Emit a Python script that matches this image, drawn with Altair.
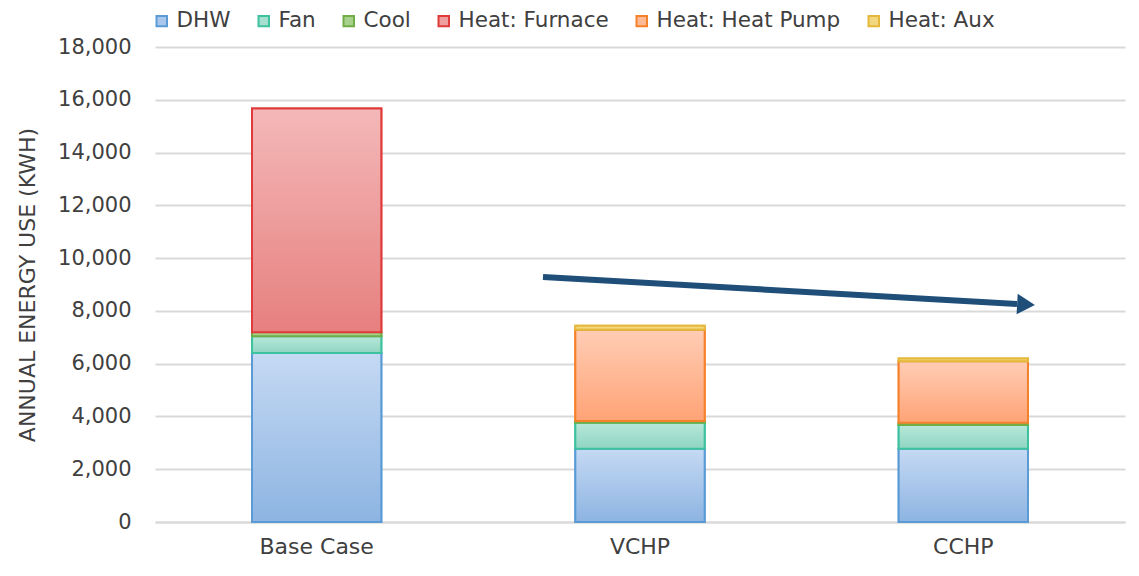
import altair as alt
import pandas as pd

categories = ["Base Case", "VCHP", "CCHP"]
series = ["DHW", "Fan", "Cool", "Heat: Furnace", "Heat: Heat Pump", "Heat: Aux"]
dhw = [6400, 2780, 2780]
fan = [640, 980, 900]
cool = [150, 70, 80]
furnace = [8480, 0, 0]
heat_pump = [0, 3460, 2330]
aux = [0, 150, 110]

stroke_colors = ["#5b9bd5", "#3cc29f", "#70ad47", "#e03a3a", "#f5812a", "#e4b83a"]
fill_mid = ["#a9c6ec", "#a6dfcf", "#a9d18e", "#ee9e9e", "#ffb995", "#f3d680"]
grad_top = ["#c5d9f3", "#b8e8da", "#b9dba0", "#f4b8b8", "#ffcdb5", "#f7e39a"]
grad_bot = ["#8db4e2", "#8fd5c1", "#98c978", "#e6807f", "#ffa376", "#efcb66"]

values = [dhw, fan, cool, furnace, heat_pump, aux]
rows = []
for si, s in enumerate(series):
    for ci, c in enumerate(categories):
        rows.append({"cat": c, "series": s, "order": si, "value": values[si][ci]})
df = pd.DataFrame(rows)

FONT = "DejaVu Sans"
TXT = "#404040"

xenc = alt.X("cat:N", sort=categories, title=None,
             scale=alt.Scale(paddingInner=0.6, paddingOuter=0.3),
             axis=alt.Axis(labelAngle=0, labelFontSize=22, labelColor=TXT, labelFont=FONT,
                           labelPadding=14, ticks=False, domainColor="#d9d9d9", domainWidth=2))
yenc = alt.Y("y0:Q", title="ANNUAL ENERGY USE (KWH)",
             scale=alt.Scale(domain=[0, 18000], nice=False),
             axis=alt.Axis(values=list(range(0, 18001, 2000)), format=",d", labelFontSize=21,
                           labelColor=TXT, labelFont=FONT, labelPadding=24, ticks=False,
                           domain=False, gridColor="#d9d9d9", gridWidth=2,
                           titleFontSize=22, titleFontWeight="normal", titleColor=TXT,
                           titleFont=FONT, titlePadding=18))

base = alt.Chart(df).transform_filter("datum.value > 0").transform_stack(
    stack="value", groupby=["cat"], as_=["y0", "y1"], sort=[alt.SortField("order", order="ascending")]
)

legend_layer = base.mark_bar(strokeWidth=2).encode(
    x=xenc, y=yenc, y2="y1:Q",
    fill=alt.Fill("series:N", sort=series, scale=alt.Scale(domain=series, range=fill_mid),
                  legend=alt.Legend(title=None, orient="none", direction="horizontal",
                                    legendX=-4, legendY=-37, labelFontSize=21.5, labelFont=FONT,
                                    labelColor=TXT, symbolType="square", symbolSize=110,
                                    symbolStrokeWidth=2, labelOffset=4, columnPadding=22,
                                    labelLimit=400)),
    stroke=alt.Stroke("series:N", sort=series, scale=alt.Scale(domain=series, range=stroke_colors)),
)

layers = [legend_layer]
for si, s in enumerate(series):
    layers.append(
        base.transform_filter(alt.datum.series == s).mark_bar(
            fill=alt.Gradient(gradient="linear", x1=0, x2=0, y1=0, y2=1,
                              stops=[alt.GradientStop(color=grad_top[si], offset=0),
                                     alt.GradientStop(color=grad_bot[si], offset=1)]),
            stroke=stroke_colors[si], strokeWidth=2,
        ).encode(x=alt.X("cat:N", sort=categories), y="y0:Q", y2="y1:Q")
    )

arrow_color = "#1f4e79"
arrow_line = alt.Chart(pd.DataFrame({"a": [0]})).mark_rule(
    color=arrow_color, strokeWidth=6
).encode(x=alt.value(388), y=alt.value(230), x2=alt.value(862), y2=alt.value(257))
arrow_head = alt.Chart(pd.DataFrame({"a": [0]})).mark_point(
    shape="triangle-right", filled=True, color=arrow_color, size=420, angle=3, opacity=1
).encode(x=alt.value(871), y=alt.value(257.5))

chart = alt.layer(*layers, arrow_line, arrow_head).properties(
    width=970, height=475,
    autosize=alt.AutoSizeParams(type="none"),
    padding={"left": 147, "top": 39, "right": 5, "bottom": 46},
).configure_view(stroke=None)

chart.save("out.html", embed_options={"renderer": "svg", "actions": False})
